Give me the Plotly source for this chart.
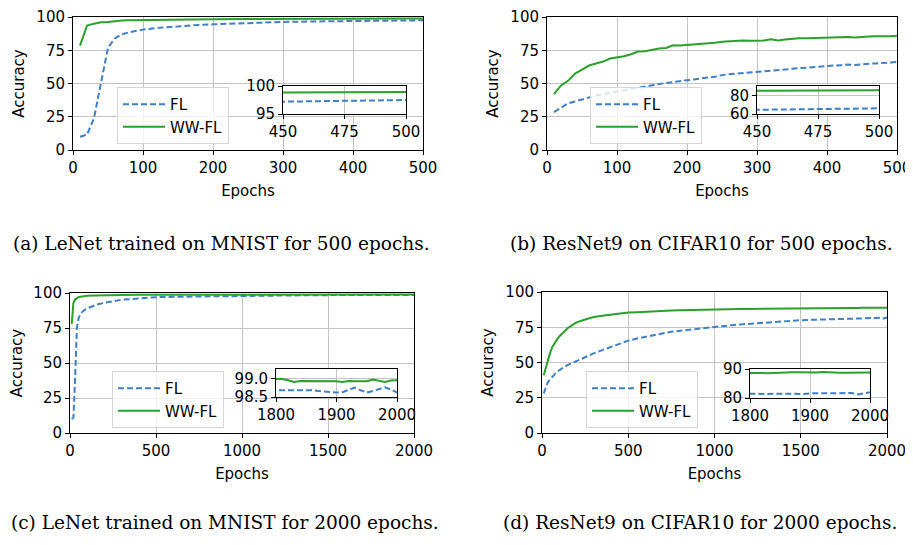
import plotly.graph_objects as go

# ---- data ----
A_EPOCHS = [10, 20, 30, 40, 50, 60, 70, 80, 90, 100, 120, 140, 160, 180, 200,
            250, 300, 350, 400, 450, 475, 500]
A_FL = [10.0, 11.5, 24.0, 52.0, 77.0, 84.0, 87.0, 88.5, 89.5, 90.5, 91.8, 92.7,
        93.4, 94.0, 94.5, 95.5, 96.3, 96.7, 97.0, 97.2, 97.35, 97.5]
A_WW = [78.5, 93.5, 95.0, 96.0, 96.3, 97.0, 97.3, 97.5, 97.6, 97.7, 97.9, 98.1,
        98.2, 98.3, 98.4, 98.5, 98.6, 98.7, 98.8, 98.85, 98.9, 98.95]

B_EPOCHS = [10, 20, 30, 40, 50, 60, 70, 80, 90, 100, 110, 120, 130, 140, 150,
            160, 170, 180, 190, 200, 210, 220, 230, 240, 250, 260, 270, 280,
            290, 300, 310, 320, 330, 340, 350, 360, 370, 380, 390, 400, 410,
            420, 430, 440, 450, 460, 470, 480, 490, 500]
B_FL = [28.5, 32.0, 35.0, 36.5, 38.0, 40.0, 41.0, 42.0, 43.0, 44.0, 45.0, 46.0,
        47.0, 48.0, 49.0, 49.6, 50.4, 51.2, 52.0, 52.5, 53.0, 54.0, 54.6, 55.0,
        56.3, 57.0, 57.4, 58.0, 58.6, 59.0, 59.2, 59.3, 60.0, 60.6, 61.0, 61.5,
        62.0, 62.2, 62.6, 63.0, 63.5, 63.8, 64.2, 64.0, 64.6, 64.9, 65.1, 65.4,
        65.6, 66.2]
B_WW = [42.0, 48.5, 52.0, 57.5, 60.5, 63.5, 65.0, 66.5, 68.8, 69.5, 70.5, 72.0,
        74.0, 74.2, 75.3, 76.3, 76.7, 78.8, 78.5, 78.9, 79.3, 79.5, 80.3, 80.6,
        81.4, 81.8, 81.7, 82.3, 82.2, 82.0, 82.3, 83.2, 82.4, 83.0, 83.6, 84.0,
        84.0, 84.2, 84.0, 84.3, 84.9, 84.8, 85.0, 84.6, 85.2, 85.3, 85.5, 85.3,
        85.6, 85.9]

C_EPOCHS = [10, 20, 30, 40, 50, 60, 80, 100, 150, 200, 300, 400, 500, 600, 700,
            800, 900, 1000, 1200, 1400, 1600, 1700, 1800, 1810, 1820, 1830,
            1840, 1850, 1860, 1870, 1880, 1890, 1900, 1910, 1920, 1930, 1940,
            1950, 1960, 1970, 1980, 1990, 2000]
C_FL = [10.0, 11.0, 40.0, 75.0, 82.0, 85.0, 87.5, 89.0, 91.5, 93.0, 95.2, 96.3,
        97.0, 97.3, 97.5, 97.7, 97.9, 98.0, 98.2, 98.4, 98.55, 98.6, 98.68,
        98.68, 98.7, 98.7, 98.68, 98.69, 98.68, 98.66, 98.64, 98.62, 98.62,
        98.63, 98.7, 98.75, 98.68, 98.62, 98.66, 98.72, 98.76, 98.7, 98.62]
C_WW = [78.0, 93.0, 95.5, 96.5, 97.0, 97.3, 97.7, 98.0, 98.3, 98.5, 98.6, 98.7,
        98.75, 98.8, 98.82, 98.85, 98.87, 98.9, 98.9, 98.92, 98.94, 98.96,
        98.98, 98.98, 98.95, 98.9, 98.93, 98.93, 98.91, 98.93, 98.92, 98.92,
        98.92, 98.9, 98.93, 98.92, 98.91, 98.92, 98.97, 98.93, 98.9, 98.94,
        98.95]

D_EPOCHS = [10, 20, 30, 40, 50, 60, 80, 100, 125, 150, 175, 200, 250, 300, 350,
            400, 450, 500, 550, 600, 650, 700, 750, 800, 850, 900, 950, 1000,
            1050, 1100, 1150, 1200, 1250, 1300, 1350, 1400, 1450, 1500, 1550,
            1600, 1650, 1700, 1750, 1800, 1810, 1820, 1830, 1840, 1850, 1860,
            1870, 1880, 1890, 1900, 1910, 1920, 1930, 1940, 1950, 1960, 1970,
            1980, 1990, 2000]
D_FL = [28.0, 32.0, 35.0, 37.0, 38.5, 40.0, 42.5, 44.5, 46.5, 48.3, 49.6, 51.0,
        53.8, 56.5, 58.8, 61.0, 63.5, 65.5, 67.0, 68.2, 69.5, 70.8, 71.8, 72.5,
        73.2, 74.0, 74.8, 75.5, 76.0, 76.5, 77.0, 77.5, 78.0, 78.4, 78.8, 79.2,
        79.6, 80.0, 80.2, 80.4, 80.8, 81.0, 81.2, 81.5, 81.4, 81.3, 81.4, 81.5,
        81.5, 81.4, 81.3, 81.3, 81.4, 81.6, 81.6, 81.7, 81.8, 81.8, 81.7, 81.8,
        81.7, 81.2, 81.6, 82.0]
D_WW = [41.0, 46.0, 50.0, 54.0, 58.0, 61.0, 65.0, 68.5, 71.5, 74.5, 76.5, 78.5,
        80.5, 82.2, 83.2, 84.0, 84.8, 85.4, 85.6, 86.0, 86.3, 86.5, 86.8, 87.0,
        87.2, 87.2, 87.4, 87.6, 87.7, 87.8, 87.9, 88.0, 88.1, 88.2, 88.3, 88.3,
        88.4, 88.4, 88.5, 88.5, 88.6, 88.6, 88.7, 88.8, 88.7, 88.6, 88.5, 88.6,
        88.9, 88.9, 88.9, 88.85, 88.8, 88.9, 88.8, 88.95, 88.8, 88.9, 88.7,
        88.75, 88.8, 88.9, 88.7, 88.8]

CAPTIONS = ["(a) LeNet trained on MNIST for 500 epochs.",
            "(b) ResNet9 on CIFAR10 for 500 epochs.",
            "(c) LeNet trained on MNIST for 2000 epochs.",
            "(d) ResNet9 on CIFAR10 for 2000 epochs."]

BLUE = "#3f7fc8"
GREEN = "#2ca02c"
GRID = "#c4c4c4"
FONT = dict(family="DejaVu Sans", size=15, color="black")

# page body has an 8px margin, so the figure sits at (8, 8) in the window
OFF = 8
W, H = 913 - OFF, 545 - OFF


def px_x(a, b):
    return [(a - OFF) / W, (b - OFF) / W]


def px_y(top, bottom):
    return [1 - (bottom - OFF) / H, 1 - (top - OFF) / H]


panels = [
    # main/inset boxes are window pixel edges (x0, x1, y_top, y_bottom)
    dict(ep=A_EPOCHS, fl=A_FL, ww=A_WW, main=(73, 423, 17, 150), ins=(283, 406, 86, 114),
         xr=[0, 500], xd=100, ixr=[450, 500], ixt=[450, 475, 500],
         iyr=[95, 100], iyt=[95, 100], iytt=["95", "100"], leg=(117, 87)),
    dict(ep=B_EPOCHS, fl=B_FL, ww=B_WW, main=(547, 897, 17, 150), ins=(757, 879, 86, 114),
         xr=[0, 500], xd=100, ixr=[450, 500], ixt=[450, 475, 500],
         iyr=[60, 90.5], iyt=[60, 80], iytt=["60", "80"], leg=(590, 87)),
    dict(ep=C_EPOCHS, fl=C_FL, ww=C_WW, main=(70, 414, 293, 433), ins=(276, 397, 369, 397),
         xr=[0, 2000], xd=500, ixr=[1800, 2000], ixt=[1800, 1900, 2000],
         iyr=[98.5, 99.25], iyt=[98.5, 99.0], iytt=["98.5", "99.0"], leg=(112, 371)),
    dict(ep=D_EPOCHS, fl=D_FL, ww=D_WW, main=(542, 887, 292, 433), ins=(750, 870, 369, 398),
         xr=[0, 2000], xd=500, ixr=[1800, 2000], ixt=[1800, 1900, 2000],
         iyr=[80, 90], iyt=[80, 90], iytt=["80", "90"], leg=(586, 371)),
]

fig = go.Figure()
layout = {}
axis_common = dict(showline=True, linecolor="black", linewidth=1, mirror=True,
                   ticks="outside", ticklen=4, tickwidth=1, tickcolor="black",
                   showgrid=True, gridcolor=GRID, gridwidth=1, zeroline=False,
                   tickfont=FONT, automargin=False, ticklabeloverflow="allow")

for i, p in enumerate(panels):
    m = i + 1          # main axis number
    n = i + 5          # inset axis number
    mx = "x" if m == 1 else f"x{m}"
    my = "y" if m == 1 else f"y{m}"
    leg = "legend" if m == 1 else f"legend{m}"

    fig.add_trace(go.Scatter(x=p["ep"], y=p["fl"], name="FL", mode="lines",
                             line=dict(color=BLUE, width=2, dash="6px,3px"),
                             xaxis=mx, yaxis=my, legend=leg, legendgroup="fl"))
    fig.add_trace(go.Scatter(x=p["ep"], y=p["ww"], name="WW-FL", mode="lines",
                             line=dict(color=GREEN, width=2),
                             xaxis=mx, yaxis=my, legend=leg, legendgroup="ww"))
    fig.add_trace(go.Scatter(x=p["ep"], y=p["fl"], mode="lines", showlegend=False,
                             line=dict(color=BLUE, width=2, dash="6px,3px"),
                             xaxis=f"x{n}", yaxis=f"y{n}"))
    fig.add_trace(go.Scatter(x=p["ep"], y=p["ww"], mode="lines", showlegend=False,
                             line=dict(color=GREEN, width=2),
                             xaxis=f"x{n}", yaxis=f"y{n}"))

    x0, x1, y0, y1 = p["main"]
    layout["xaxis" if m == 1 else f"xaxis{m}"] = dict(
        axis_common, domain=px_x(x0, x1), anchor=my, range=p["xr"], dtick=p["xd"], tick0=0,
        title=dict(text="Epochs", font=FONT, standoff=9))
    layout["yaxis" if m == 1 else f"yaxis{m}"] = dict(
        axis_common, domain=px_y(y0, y1), anchor=mx, range=[0, 100], dtick=25, tick0=0,
        title=dict(text="Accuracy", font=FONT, standoff=8))

    ix0, ix1, iy0, iy1 = p["ins"]
    layout[f"xaxis{n}"] = dict(axis_common, domain=px_x(ix0, ix1), anchor=f"y{n}",
                               range=p["ixr"], tickvals=p["ixt"])
    layout[f"yaxis{n}"] = dict(axis_common, domain=px_y(iy0, iy1), anchor=f"x{n}",
                               range=p["iyr"], tickvals=p["iyt"], ticktext=p["iytt"])

    lx, ly = p["leg"]
    layout[leg] = dict(x=(lx - OFF) / W, y=1 - (ly - OFF) / H, xanchor="left", yanchor="top",
                       bgcolor="rgba(255,255,255,0.8)", bordercolor="#d6d6d6",
                       borderwidth=1, font=FONT, tracegroupgap=0, itemwidth=42,
                       traceorder="grouped")

annotations = []
# (x, anchor, y) in window pixels
cap_pos = [(221, "center", 243), (701, "center", 243), (9, "left", 522), (700, "center", 522)]
for text, (cx, anchor, cy) in zip(CAPTIONS, cap_pos):
    annotations.append(dict(text=text, x=(cx - OFF) / W, y=1 - (cy - OFF) / H,
                            xref="paper", yref="paper", xanchor=anchor, yanchor="middle",
                            showarrow=False,
                            font=dict(family="DejaVu Serif", size=18.5, color="black")))

fig.update_layout(**layout)
fig.update_layout(width=W, height=H, margin=dict(l=0, r=0, t=0, b=0, autoexpand=False),
                  paper_bgcolor="white", plot_bgcolor="white",
                  font=FONT, annotations=annotations)

fig.write_html("out.html")
